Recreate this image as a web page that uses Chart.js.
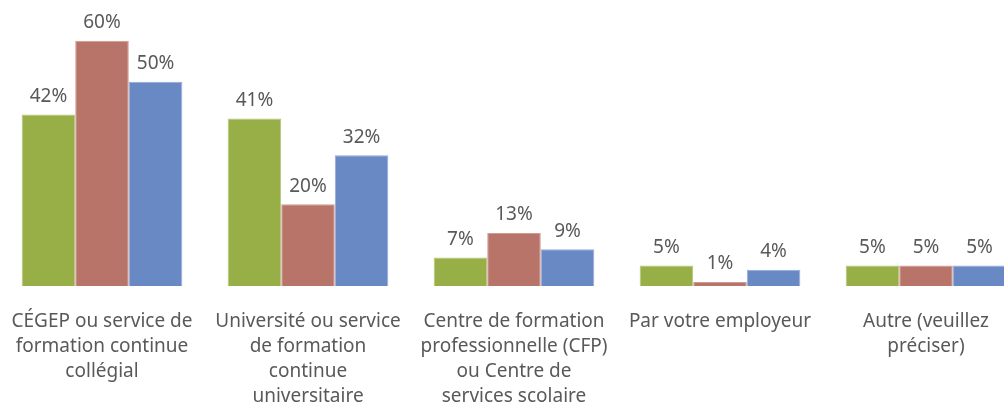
<!DOCTYPE html>
<html>
<head>
<meta charset="utf-8">
<script src="https://cdn.jsdelivr.net/npm/chart.js@4"></script>
<style>
  html, body { margin: 0; padding: 0; background: #fff; overflow: hidden; }
  #wrap { position: absolute; left: -1px; top: 0; width: 1030px; height: 432px; }
</style>
</head>
<body>
<div id="wrap"><canvas id="chart"></canvas></div>
<script>
const categories = [
  ["CÉGEP ou service de", "formation continue", "collégial"],
  ["Université ou service", "de formation", "continue", "universitaire"],
  ["Centre de formation", "professionnelle (CFP)", "ou Centre de", "services scolaire"],
  ["Par votre employeur"],
  ["Autre (veuillez", "préciser)"],
];
const seriesNames = ["Série 1", "Série 2", "Série 3"];
const greenValues = [42, 41, 7, 5, 5];
const redValues = [60, 20, 13, 1, 5];
const blueValues = [50, 32, 9, 4, 5];

const textColor = "#595959";
const fontFamily = "'Noto Sans', 'Open Sans', sans-serif";

// draws the "NN%" labels over each bar
const valueLabels = {
  id: "valueLabels",
  afterDatasetsDraw(chart) {
    const ctx = chart.ctx;
    ctx.save();
    ctx.font = "19px " + fontFamily;
    ctx.fillStyle = textColor;
    ctx.textAlign = "center";
    ctx.textBaseline = "middle";
    chart.data.datasets.forEach((ds, i) => {
      chart.getDatasetMeta(i).data.forEach((bar, j) => {
        ctx.fillText(ds.data[j] + "%", bar.x, bar.y - 18);
      });
    });
    ctx.restore();
  },
};

new Chart(document.getElementById("chart"), {
  type: "bar",
  data: {
    labels: categories,
    datasets: [
      { label: seriesNames[0], data: greenValues, backgroundColor: "#98AF48", borderColor: "#B3C67A", borderWidth: 1 },
      { label: seriesNames[1], data: redValues, backgroundColor: "#B87468", borderColor: "#CF9A90", borderWidth: 1 },
      { label: seriesNames[2], data: blueValues, backgroundColor: "#6989C5", borderColor: "#93AADA", borderWidth: 1 },
    ],
  },
  options: {
    responsive: true,
    maintainAspectRatio: false,
    animation: false,
    layout: { padding: 0 },
    categoryPercentage: 0.78,
    barPercentage: 1,
    plugins: {
      legend: { display: false },
      tooltip: { enabled: false },
    },
    scales: {
      x: {
        grid: { display: false, drawTicks: false },
        border: { display: false },
        ticks: {
          color: textColor,
          font: { family: fontFamily, size: 19, lineHeight: 25 / 19 },
          padding: 23,
          maxRotation: 0,
          autoSkip: false,
        },
        afterFit(scale) {
          // no side padding, categories span the full width
          scale.paddingLeft = 0;
          scale.paddingRight = 0;
        },
      },
      y: {
        display: false,
        min: 0,
        max: 70,
      },
    },
  },
  plugins: [valueLabels],
});
</script>
</body>
</html>
